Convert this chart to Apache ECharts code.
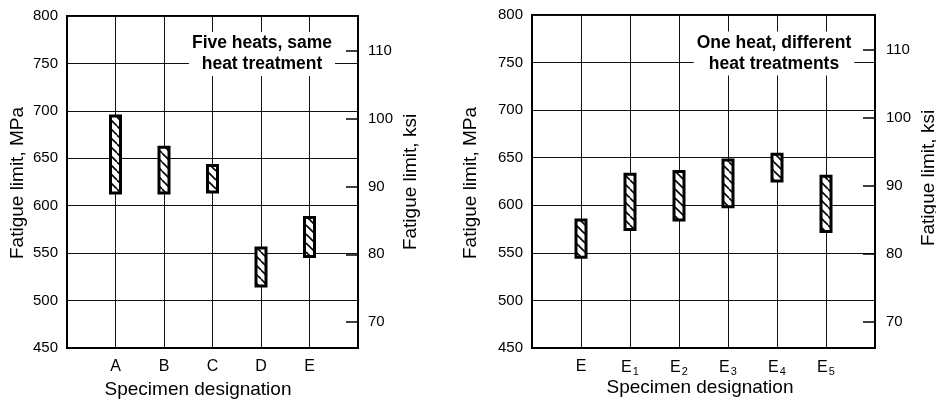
<!DOCTYPE html>
<html>
<head>
<meta charset="utf-8">
<script src="https://cdn.jsdelivr.net/npm/echarts@6/dist/echarts.min.js"></script>
<style>
  html, body { margin: 0; padding: 0; background: #fff; }
  #chart { width: 936px; height: 400px; }
</style>
</head>
<body>
<div id="chart"></div>
<script>
// ---- data ----
const leftCats = ['A', 'B', 'C', 'D', 'E'];
const leftLow  = [612, 612, 613, 514, 545];   // MPa
const leftHigh = [696, 663, 644, 557, 589];   // MPa

const rightCats = ['E', 'E1', 'E2', 'E3', 'E4', 'E5'];
const rightLow  = [544, 573, 583, 597, 624, 571];  // MPa
const rightHigh = [586, 634, 637, 649, 655, 632];  // MPa

const mpaMin = 450, mpaMax = 800, mpaStep = 50;
const ksiTicks = [70, 80, 90, 100, 110];
const ksiMin = 66.2, ksiMax = 115.1;

const leftNote  = 'Five heats, same\nheat treatment';
const rightNote = 'One heat, different\nheat treatments';
const yTitleMPa = 'Fatigue limit, MPa';
const yTitleKsi = 'Fatigue limit, ksi';
const xTitle = 'Specimen designation';

// ---- styling ----
const SANS = '"Liberation Sans", Arial, Helvetica, sans-serif';
const NARROW = '"Liberation Sans Narrow", "Arial Narrow", "Liberation Sans", Arial, sans-serif';

function hatchPattern() {
  const s = 9;
  const c = document.createElement('canvas');
  c.width = s; c.height = s;
  const g = c.getContext('2d');
  g.fillStyle = '#fff';
  g.fillRect(0, 0, s, s);
  g.strokeStyle = '#000';
  g.lineWidth = 1.6;
  for (const k of [-s, 0, s]) {
    g.beginPath();
    g.moveTo(k, 0);
    g.lineTo(k + s, s);
    g.stroke();
  }
  return c;
}
const pattern = { image: hatchPattern(), repeat: 'repeat' };

function renderRange(params, api) {
  const x = api.value(0), lo = api.value(1), hi = api.value(2);
  const pTop = api.coord([x, hi]);
  const pBot = api.coord([x, lo]);
  const w = 10;
  return {
    type: 'rect',
    shape: { x: pTop[0] - w / 2, y: pTop[1] + 1.4, width: w, height: pBot[1] - pTop[1] - 2.8 },
    style: { fill: pattern, stroke: '#000', lineWidth: 3 }
  };
}

function mpaAxis(gridIndex) {
  return {
    type: 'value', gridIndex, position: 'left',
    min: mpaMin, max: mpaMax, interval: mpaStep,
    axisLine: { show: true, lineStyle: { color: '#000', width: 2 } },
    axisTick: { show: false },
    axisLabel: { color: '#000', fontSize: 15, fontFamily: NARROW, margin: 9 },
    splitLine: { show: true, lineStyle: { color: '#111', width: 1 } }
  };
}
function ksiAxis(gridIndex, margin) {
  return {
    type: 'value', gridIndex, position: 'right',
    min: ksiMin, max: ksiMax,
    axisLine: { show: true, lineStyle: { color: '#000', width: 2 } },
    axisTick: { show: true, inside: true, length: 12, customValues: ksiTicks,
                lineStyle: { color: '#000', width: 1.5 } },
    axisLabel: { color: '#000', fontSize: 15, fontFamily: NARROW, margin, customValues: ksiTicks },
    splitLine: { show: false }
  };
}
function catAxis(gridIndex, cats) {
  return {
    type: 'value', gridIndex, position: 'bottom',
    min: 0, max: cats.length + 1, interval: 1,
    axisLine: { show: true, lineStyle: { color: '#000', width: 2 } },
    axisTick: { show: false },
    axisLabel: {
      color: '#000', margin: 10,
      formatter: v => {
        const c = cats[v - 1];
        if (!c) return '';
        return '{b|' + c[0] + '}' + (c.length > 1 ? '{s|' + c.slice(1) + '}' : '');
      },
      rich: {
        b: { fontSize: 16, fontFamily: SANS, color: '#000', lineHeight: 18 },
        s: { fontSize: 11, fontFamily: SANS, color: '#000', verticalAlign: 'bottom', padding: [8, 0, 0, 1] }
      }
    },
    splitLine: { show: true, lineStyle: { color: '#111', width: 1 } }
  };
}

function titleText(x, y, text, rot) {
  return {
    type: 'text', x, y, rotation: rot || 0, z: 100,
    style: { text, fontSize: 19, fontFamily: SANS, fill: '#000', align: 'center', verticalAlign: 'middle' }
  };
}
function noteText(x, y, text) {
  return {
    type: 'text', x, y, z: 100,
    style: {
      text, fontSize: 17.5, fontWeight: 'bold', fontFamily: SANS, fill: '#000',
      align: 'center', verticalAlign: 'middle', lineHeight: 21,
      backgroundColor: '#fff', padding: [1, 3, 1, 3]
    }
  };
}

const chart = echarts.init(document.getElementById('chart'), null, { renderer: 'canvas' });
chart.setOption({
  animation: false,
  backgroundColor: '#fff',
  grid: [
    { left: 67, top: 16, width: 291, height: 332, show: true, borderColor: '#000', borderWidth: 2, backgroundColor: 'transparent' },
    { left: 532, top: 15, width: 343, height: 333, show: true, borderColor: '#000', borderWidth: 2, backgroundColor: 'transparent' }
  ],
  xAxis: [catAxis(0, leftCats), catAxis(1, rightCats)],
  yAxis: [mpaAxis(0), ksiAxis(0, 10), mpaAxis(1), ksiAxis(1, 11)],
  series: [
    {
      type: 'custom', xAxisIndex: 0, yAxisIndex: 0, renderItem: renderRange,
      encode: { x: 0, y: [1, 2] },
      data: leftCats.map((c, i) => [i + 1, leftLow[i], leftHigh[i]]), z: 10
    },
    {
      type: 'custom', xAxisIndex: 1, yAxisIndex: 2, renderItem: renderRange,
      encode: { x: 0, y: [1, 2] },
      data: rightCats.map((c, i) => [i + 1, rightLow[i], rightHigh[i]]), z: 10
    }
  ],
  graphic: [
    noteText(262, 54, leftNote),
    noteText(774, 53.5, rightNote),
    titleText(18, 183, yTitleMPa, Math.PI / 2),
    titleText(471, 183, yTitleMPa, Math.PI / 2),
    titleText(411, 182, yTitleKsi, Math.PI / 2),
    titleText(929, 178, yTitleKsi, Math.PI / 2),
    titleText(198, 390, xTitle),
    titleText(700, 388, xTitle)
  ]
});
</script>
</body>
</html>
